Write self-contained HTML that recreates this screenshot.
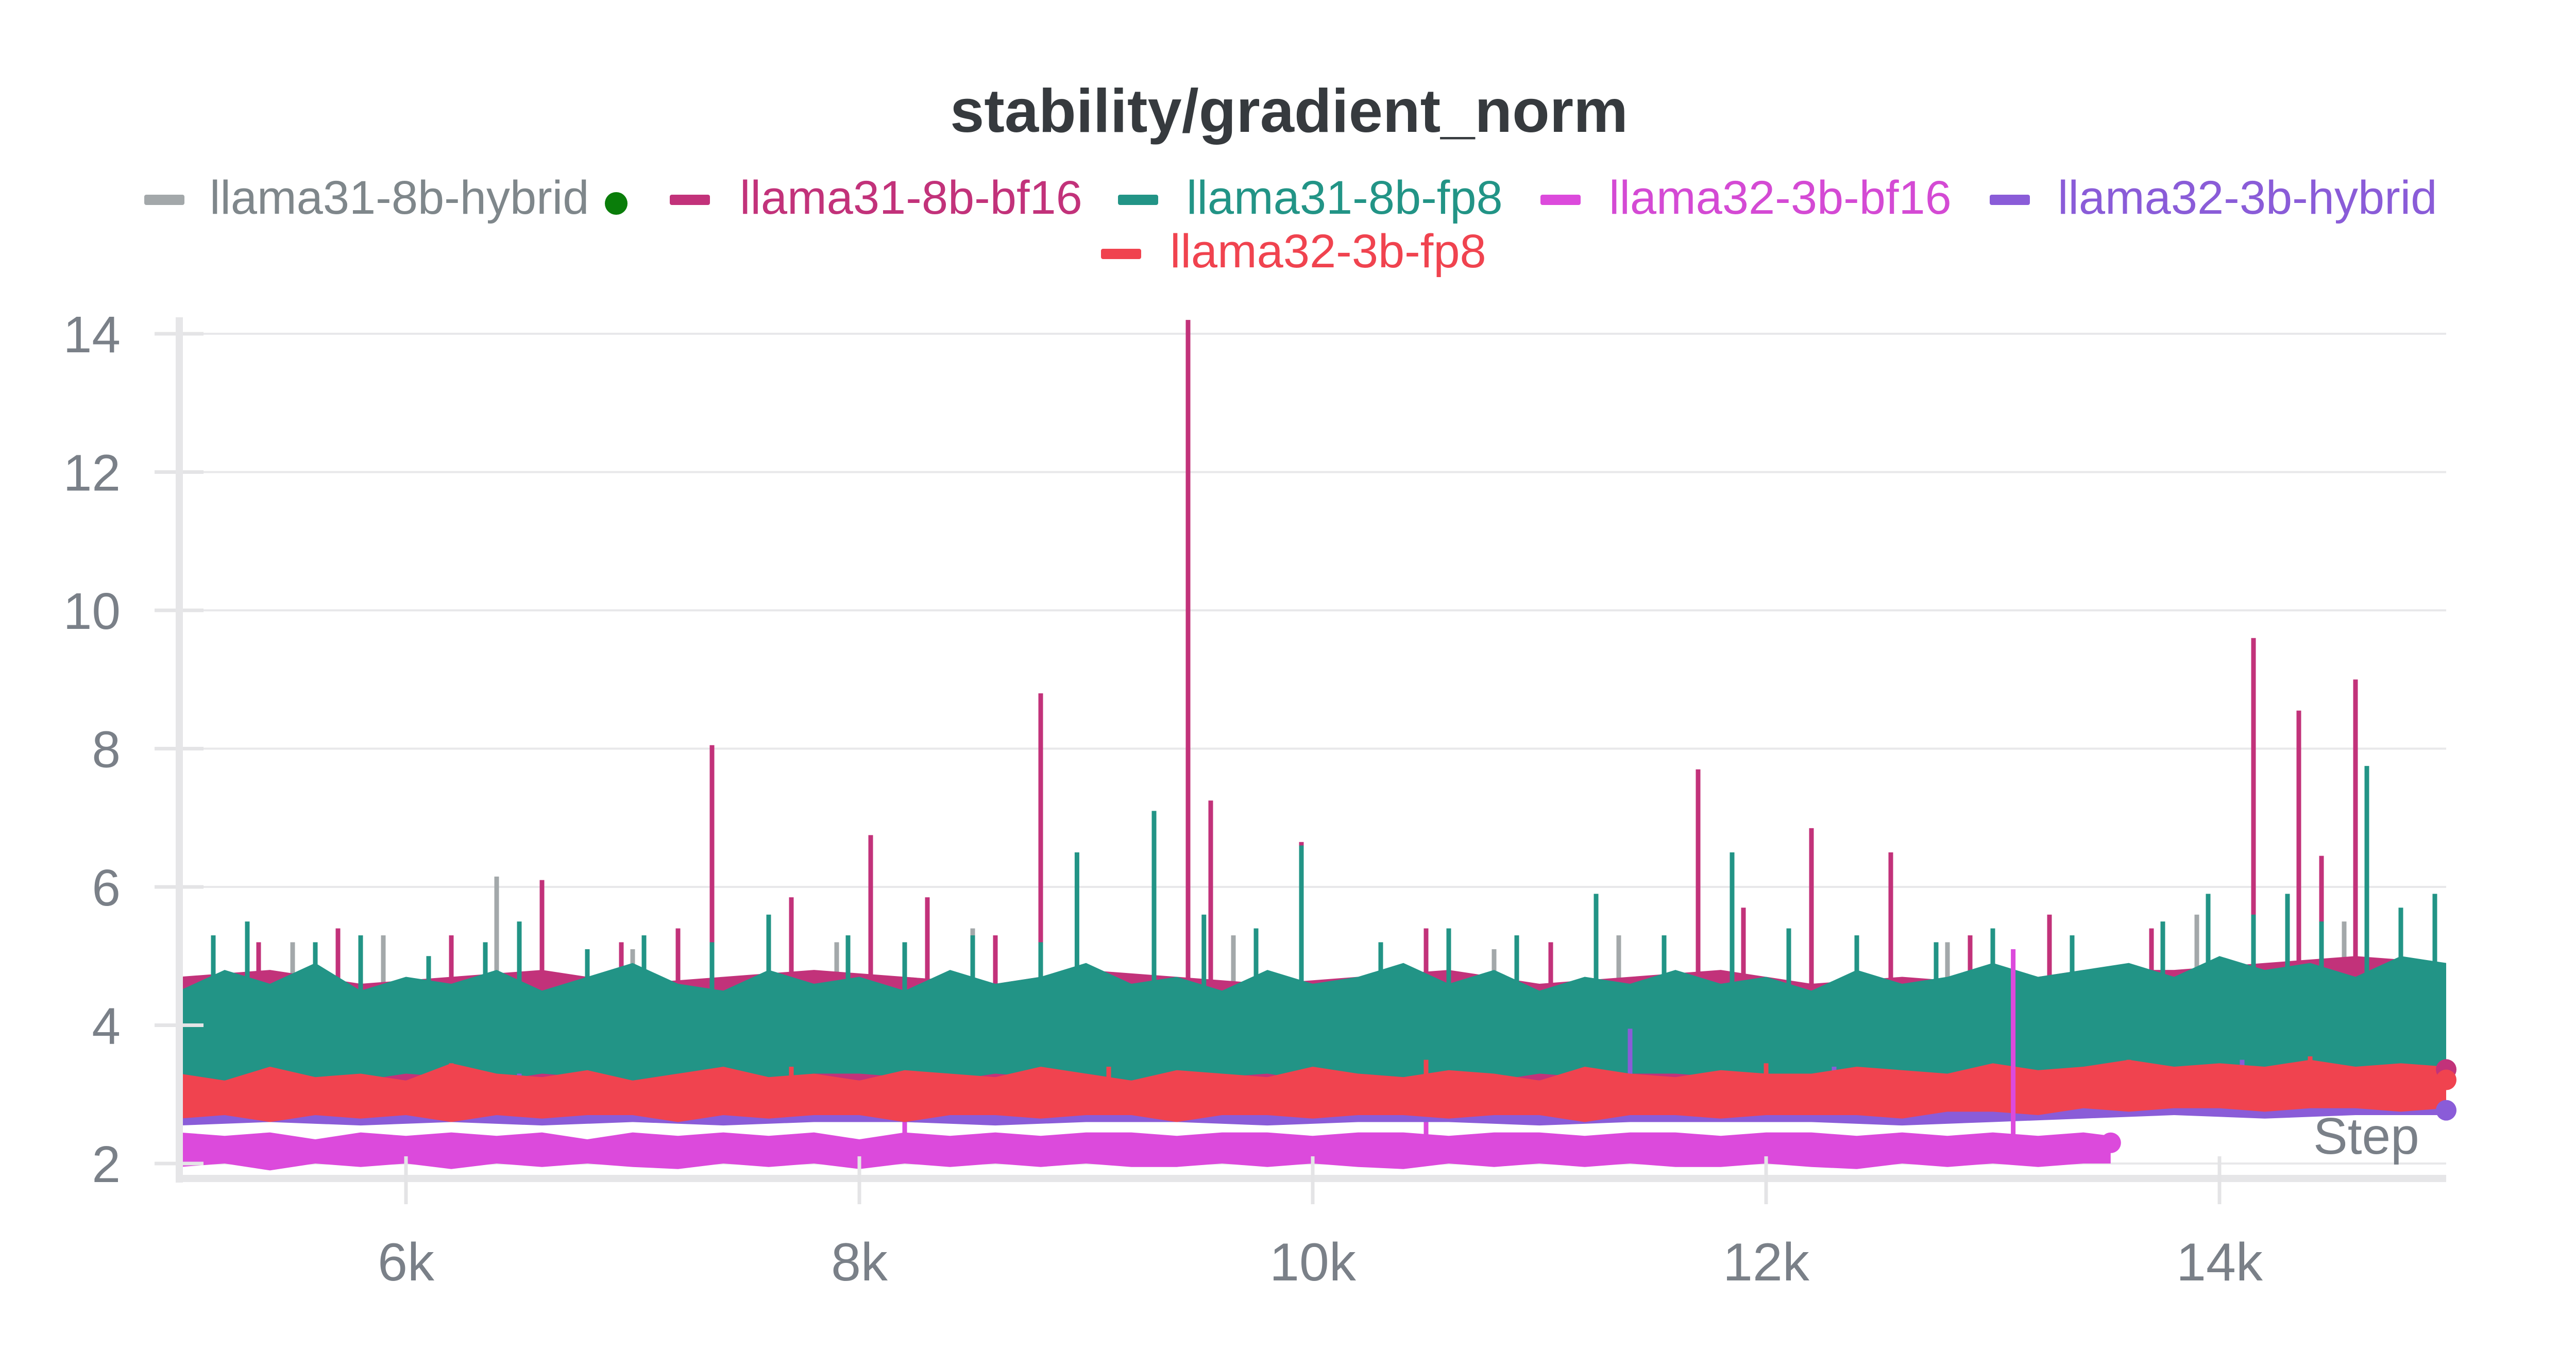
<!DOCTYPE html>
<html><head><meta charset="utf-8"><style>
html,body{margin:0;padding:0;background:#fff;}
svg{display:block;}
text{font-family:"Liberation Sans",sans-serif;}
</style></head><body>
<svg id="chart" width="5056" height="2656" viewBox="0 0 5056 2656" xmlns="http://www.w3.org/2000/svg">
<rect x="0" y="0" width="5056" height="2656" fill="#fff"/>
<text x="2502" y="256" text-anchor="middle" font-size="119" font-weight="bold" fill="#363a3e">stability/gradient_norm</text>
<g font-size="92">
 <g><rect x="280" y="378" width="78" height="20" rx="4" fill="#a3a8aa"/><text x="407" y="415" fill="#7f878b">llama31-8b-hybrid</text><circle cx="1196" cy="395" r="22" fill="#0a7d0a"/></g>
 <g><rect x="1300" y="378" width="78" height="20" rx="4" fill="#c2327a"/><text x="1436" y="415" fill="#c2327a">llama31-8b-bf16</text></g>
 <g><rect x="2170" y="378" width="78" height="20" rx="4" fill="#229486"/><text x="2303" y="415" fill="#229486">llama31-8b-fp8</text></g>
 <g><rect x="2990" y="378" width="78" height="20" rx="4" fill="#dc4adc"/><text x="3123" y="415" fill="#d44ad4">llama32-3b-bf16</text></g>
 <g><rect x="3862" y="378" width="78" height="20" rx="4" fill="#8a5cd8"/><text x="3994" y="415" fill="#8a5cd8">llama32-3b-hybrid</text></g>
 <g><rect x="2137" y="483" width="78" height="20" rx="4" fill="#f0434f"/><text x="2271" y="519" fill="#f0434f">llama32-3b-fp8</text></g>
</g>
<g id="grid"></g>
<g id="series"></g>
<g id="axes"></g>
<text x="4490" y="2240" font-size="100" fill="#7a8088">Step</text>
</svg>
<script>
const yTicks = [2, 4, 6, 8, 10, 12, 14];
const xTicks = [6000, 8000, 10000, 12000, 14000];
const xTickLabels = ["6k", "8k", "10k", "12k", "14k"];
const binSteps = [5000,5400,5800,6200,6600,7000,7400,7800,8200,8600,9000,9400,9800,10200,10600,11000,11400,11800,12200,12600,13000,13400,13800,14200,14600,15000];
const fineSteps = [5000,5200,5400,5600,5800,6000,6200,6400,6600,6800,7000,7200,7400,7600,7800,8000,8200,8400,8600,8800,9000,9200,9400,9600,9800,10000,10200,10400,10600,10800,11000,11200,11400,11600,11800,12000,12200,12400,12600,12800,13000,13200,13400,13600,13800,14000,14200,14400,14600,14800,15000];
const grayHi = [4.6,4.7,4.6,4.6,4.7,4.6,4.6,4.6,4.7,4.6,4.6,4.6,4.6,4.6,4.7,4.6,4.6,4.6,4.6,4.6,4.6,4.7,4.7,4.8,4.8,4.8];
const grayLo = [3.2,3.2,3.2,3.2,3.2,3.2,3.2,3.2,3.2,3.2,3.2,3.2,3.2,3.2,3.2,3.2,3.2,3.2,3.2,3.2,3.2,3.2,3.3,3.3,3.3,3.3];
const bf16Hi = [4.7,4.8,4.6,4.7,4.8,4.6,4.7,4.8,4.7,4.6,4.8,4.7,4.6,4.7,4.8,4.6,4.7,4.8,4.6,4.7,4.6,4.8,4.8,4.9,5.0,4.9];
const bf16Lo = [3.15,3.15,3.2,3.15,3.2,3.15,3.2,3.15,3.2,3.2,3.15,3.2,3.2,3.2,3.2,3.2,3.2,3.2,3.2,3.2,3.2,3.25,3.3,3.3,3.35,3.35];
const fp8Hi = [4.5,4.8,4.6,4.9,4.5,4.7,4.6,4.8,4.5,4.7,4.9,4.6,4.5,4.8,4.6,4.7,4.5,4.8,4.6,4.7,4.9,4.6,4.7,4.5,4.8,4.6,4.7,4.9,4.6,4.8,4.5,4.7,4.6,4.8,4.6,4.7,4.5,4.8,4.6,4.7,4.9,4.7,4.8,4.9,4.7,5.0,4.8,4.9,4.7,5.0,4.9];
const fp8Lo = [3.3,3.2,3.3,3.25,3.2,3.3,3.25,3.2,3.3,3.25,3.2,3.3,3.25,3.2,3.3,3.3,3.25,3.2,3.3,3.25,3.3,3.2,3.3,3.25,3.3,3.2,3.3,3.25,3.3,3.2,3.3,3.25,3.3,3.3,3.25,3.3,3.3,3.25,3.3,3.3,3.35,3.3,3.4,3.35,3.4,3.4,3.35,3.4,3.4,3.4,3.4];
const hyb32Hi = [3.2,3.2,3.2,3.2,3.2,3.2,3.2,3.2,3.2,3.2,3.2,3.2,3.2,3.2,3.2,3.2,3.2,3.2,3.2,3.2,3.2,3.25,3.3,3.3,3.3,3.3];
const hyb32Lo = [2.55,2.6,2.55,2.6,2.55,2.6,2.55,2.6,2.6,2.55,2.6,2.6,2.55,2.6,2.6,2.55,2.6,2.6,2.6,2.55,2.6,2.65,2.7,2.65,2.7,2.7];
const fp832Hi = [3.3,3.2,3.4,3.25,3.3,3.2,3.45,3.3,3.25,3.35,3.2,3.3,3.4,3.25,3.3,3.2,3.35,3.3,3.25,3.4,3.3,3.2,3.35,3.3,3.25,3.4,3.3,3.25,3.35,3.3,3.2,3.4,3.3,3.25,3.35,3.3,3.3,3.4,3.35,3.3,3.45,3.35,3.4,3.5,3.4,3.45,3.4,3.5,3.4,3.45,3.4];
const fp832Lo = [2.65,2.7,2.6,2.7,2.65,2.7,2.6,2.7,2.65,2.7,2.7,2.6,2.7,2.65,2.7,2.7,2.6,2.7,2.7,2.65,2.7,2.7,2.6,2.7,2.7,2.65,2.7,2.7,2.65,2.7,2.7,2.6,2.7,2.7,2.65,2.7,2.7,2.7,2.65,2.75,2.75,2.7,2.8,2.75,2.8,2.8,2.75,2.8,2.8,2.75,2.8];
const bf1632Steps = [5000,5200,5400,5600,5800,6000,6200,6400,6600,6800,7000,7200,7400,7600,7800,8000,8200,8400,8600,8800,9000,9200,9400,9600,9800,10000,10200,10400,10600,10800,11000,11200,11400,11600,11800,12000,12200,12400,12600,12800,13000,13200,13400,13520];
const bf1632Hi = [2.45,2.4,2.45,2.35,2.45,2.4,2.45,2.4,2.45,2.35,2.45,2.4,2.45,2.4,2.45,2.35,2.45,2.4,2.45,2.4,2.45,2.45,2.4,2.45,2.45,2.4,2.45,2.45,2.4,2.45,2.45,2.4,2.45,2.45,2.4,2.45,2.45,2.4,2.45,2.4,2.45,2.4,2.45,2.4];
const bf1632Lo = [1.95,2.0,1.9,2.0,1.95,2.0,1.92,2.0,1.95,2.0,1.95,1.92,2.0,1.95,2.0,1.92,2.0,1.95,2.0,1.95,2.0,1.95,1.95,2.0,1.95,2.0,1.95,1.92,2.0,1.95,2.0,1.95,2.0,1.95,1.95,2.0,1.95,1.92,2.0,1.95,2.0,1.95,2.0,2.0];
const grayPeakSteps = [5500,5900,6400,7000,7900,8500,9650,10800,11350,12800,13900,14550];
const grayPeakVals = [5.2,5.3,6.15,5.1,5.2,5.4,5.3,5.1,5.3,5.2,5.6,5.5];
const bf16PeakSteps = [5350,5700,6200,6600,6950,7200,7350,7700,8050,8300,8600,8800,9450,9550,9950,10500,11050,11700,11900,12200,12550,12900,13250,13700,14150,14350,14450,14600,14800];
const bf16PeakVals = [5.2,5.4,5.3,6.1,5.2,5.4,8.05,5.85,6.75,5.85,5.3,8.8,14.2,7.25,6.65,5.4,5.2,7.7,5.7,6.85,6.5,5.3,5.6,5.4,9.6,8.55,6.45,9.0,5.5];
const fp8PeakSteps = [5150,5300,5600,5800,6100,6350,6500,6800,7050,7350,7600,7950,8200,8500,8800,8960,9300,9520,9750,9950,10300,10600,10900,11250,11550,11850,12100,12400,12750,13000,13350,13750,13950,14150,14300,14450,14650,14800,14950];
const fp8PeakVals = [5.3,5.5,5.2,5.3,5.0,5.2,5.5,5.1,5.3,5.2,5.6,5.3,5.2,5.3,5.2,6.5,7.1,5.6,5.4,6.6,5.2,5.4,5.3,5.9,5.3,6.5,5.4,5.3,5.2,5.4,5.3,5.5,5.9,5.6,5.9,5.5,7.75,5.7,5.9];
const hyb32PeakSteps = [6500,11400,12300,14100];
const hyb32PeakVals = [3.3,3.95,3.4,3.5];
const fp832PeakSteps = [6200,7700,9100,10500,12000,13600,14400];
const fp832PeakVals = [3.45,3.4,3.4,3.5,3.45,3.5,3.55];
const bf1632PeakSteps = [8200,10500,13090];
const bf1632PeakVals = [2.6,2.6,5.1];
const endSteps = [15000, 15000, 15000, 13520];
const endVals = [3.36, 3.21, 2.77, 2.3];

const NS = "http://www.w3.org/2000/svg";
const X0 = 348, X1 = 4748, S0 = 5000, S1 = 15000;
const Y2 = 2259, PXU = 134.25;
function xs(s){ return X0 + (s - S0) * (X1 - X0) / (S1 - S0); }
function ys(v){ return Y2 - (v - 2) * PXU; }
function mk(tag, attrs, parent){ const e = document.createElementNS(NS, tag); for (const k in attrs) e.setAttribute(k, attrs[k]); parent.appendChild(e); return e; }

const grid = document.getElementById('grid');
const axes = document.getElementById('axes');
const series = document.getElementById('series');

yTicks.forEach(v => {
  const g = mk('line', {x1:395, x2:X1, y1:ys(v), y2:ys(v), stroke:'#e8e8ea', 'stroke-width':4}, grid);
  
  
  const t = mk('line', {x1:300, x2:395, y1:ys(v), y2:ys(v), stroke:'#e4e4e6', 'stroke-width':7}, axes);
  
  
  const l = mk('text', {x:234, y:ys(v) + 36, 'text-anchor':'end', 'font-size':100, fill:'#7a8088'}, axes);
  l.textContent = String(v);
  
  
});
const ya = mk('rect', {x:341, y:616, width:14, height:1680, fill:'#e6e6e8'}, axes);


const xa = mk('rect', {x:348, y:2281, width:X1 - 348, height:14, fill:'#e6e6e8'}, axes);


xTicks.forEach((s, i) => {
  const t = mk('line', {x1:xs(s), x2:xs(s), y1:2245, y2:2338, stroke:'#e4e4e6', 'stroke-width':7}, axes);
  
  
  const l = mk('text', {x:xs(s), y:2486, 'text-anchor':'middle', 'font-size':104, fill:'#7a8088'}, axes);
  l.textContent = xTickLabels[i];
  
  
});

function band(name, steps, hi, lo, color){
  const n = steps.length;
  let d = 'M' + xs(steps[0]) + ',' + ys(hi[0]);
  for (let i = 1; i < n; i++) d += 'L' + xs(steps[i]) + ',' + ys(hi[i]);
  for (let i = n - 1; i >= 0; i--) d += 'L' + xs(steps[i]) + ',' + ys(lo[i]);
  d += 'Z';
  const p = mk('path', {d:d, fill:color}, series);
  
  
}
function peaks(name, steps, vals, base, color){
  steps.forEach((s, i) => {
    const l = mk('line', {x1:xs(s), x2:xs(s), y1:ys(base), y2:ys(vals[i]), stroke:color, 'stroke-width':9}, series);
    
    
  });
}

band('llama31-8b-hybrid', binSteps, grayHi, grayLo, '#a3a8aa');
peaks('llama31-8b-hybrid', grayPeakSteps, grayPeakVals, 4.2, '#a3a8aa');
band('llama31-8b-bf16', binSteps, bf16Hi, bf16Lo, '#c2327a');
peaks('llama31-8b-bf16', bf16PeakSteps, bf16PeakVals, 4.2, '#c2327a');
band('llama31-8b-fp8', fineSteps, fp8Hi, fp8Lo, '#229486');
peaks('llama31-8b-fp8', fp8PeakSteps, fp8PeakVals, 4.2, '#229486');
band('llama32-3b-hybrid', binSteps, hyb32Hi, hyb32Lo, '#8a5cd8');
peaks('llama32-3b-hybrid', hyb32PeakSteps, hyb32PeakVals, 3.0, '#8a5cd8');
band('llama32-3b-fp8', fineSteps, fp832Hi, fp832Lo, '#f0434f');
peaks('llama32-3b-fp8', fp832PeakSteps, fp832PeakVals, 3.0, '#f0434f');
band('llama32-3b-bf16', bf1632Steps, bf1632Hi, bf1632Lo, '#dc4adc');
peaks('llama32-3b-bf16', bf1632PeakSteps, bf1632PeakVals, 2.2, '#dc4adc');

const endColors = ['#c2327a', '#f0434f', '#8a5cd8', '#dc4adc'];
endSteps.forEach((s, i) => {
  const c = mk('circle', {cx:xs(s), cy:ys(endVals[i]), r:20, fill:endColors[i]}, series);
  
  
});
</script>
</body></html>
